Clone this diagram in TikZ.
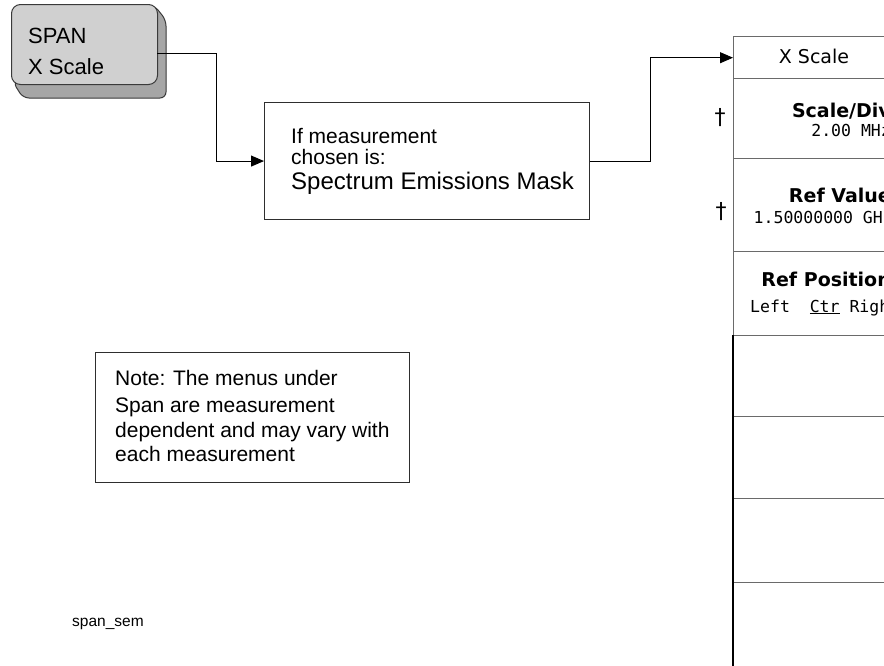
\documentclass[tikz,border=0pt]{standalone}
\usepackage{fontspec}
\setmainfont{Liberation Sans}
\newfontfamily\menufont{DejaVu Sans}
\newfontfamily\valfont{DejaVu Sans Mono}
\usetikzlibrary{arrows.meta, positioning}
\definecolor{keyFace}{HTML}{D0D0D0}
\definecolor{keyShade}{HTML}{A6A6A6}
\definecolor{keyEdge}{HTML}{3A3A3A}
\definecolor{boxEdge}{HTML}{2E2E2E}
\definecolor{menuLine}{HTML}{6A6A6A}
\newcommand{\fsz}[1]{\fontsize{#1}{#1}\selectfont}

\begin{document}
\begin{tikzpicture}[x=1pt, y=-1pt,
    conn/.style={draw=black, line width=1pt, -{Triangle[length=13pt, width=11pt]}},
    keyface/.style={rectangle, rounded corners=9pt, draw=keyEdge, line width=1pt,
                    fill=keyFace, anchor=north west, inner sep=0pt},
    plainbox/.style={rectangle, draw=boxEdge, line width=1.1pt, fill=white,
                     anchor=north west, inner sep=0pt},
    softkey/.style={rectangle, draw=menuLine, line width=1.4pt, minimum width=164pt,
                    anchor=north west, inner sep=0pt},
    txt/.style={inner sep=0pt, anchor=base west},
    menutitle/.style={inner sep=0pt, anchor=base, font=\menufont\fsz{19}},
    menulabel/.style={inner sep=0pt, anchor=base east, font=\menufont\bfseries\fsz{19}},
    menuval/.style={inner sep=0pt, anchor=base east, font=\valfont\fsz{16.5}},
    dagger/.style={inner sep=0pt, font=\menufont\fsz{22}},
  ]
    \useasboundingbox (0,0) rectangle (884,665);
    \fill[white] (0,0) rectangle (884,665);
    \clip (0,0) rectangle (884,665);

    % ─── SPAN hardkey ───
    \filldraw[fill=keyShade, draw=keyEdge, line width=1pt, rounded corners=6pt]
      (154,5) -- (166,20) -- (166,98) -- (23,98) -- (13,82) -- cycle;
    \node[keyface, minimum width=146pt, minimum height=80pt] (spankey) at (11,4) {};
    \node[txt, font=\fsz{22}] (spanl1) at (28,43) {SPAN};
    \node[txt, font=\fsz{22}] (spanl2) at (28,74) {X Scale};
    \coordinate (spanout) at (157,53);

    % ─── Measurement condition ───
    \node[plainbox, minimum width=325pt, minimum height=117pt] (cond) at (264,102) {};
    \node[txt, font=\fsz{21}] (condl1) at (291,143) {If measurement};
    \node[txt, font=\fsz{21}] (condl2) at (291,164) {chosen is:};
    \node[txt, font=\fsz{24}] (condl3) at (291,189) {Spectrum Emissions Mask};

    % ─── X Scale menu ───
    \node[softkey, minimum height=42pt] (xtitle) at (733,36) {};
    \node[softkey, minimum height=80pt] (scalediv) at (733,78) {};
    \node[softkey, minimum height=93pt] (refval) at (733,158) {};
    \node[softkey, minimum height=84pt] (refpos) at (733,251) {};
    \foreach \y/\h [count=\k] in {335/81, 416/82, 498/84, 582/90}{
      \node[softkey, minimum height=\h pt] (blank\k) at (733,\y) {};
    }
    \draw[black, line width=1.4pt] (blank1.north west) -- (blank4.south west);

    \node[menutitle] (xtitlelbl) at (814,63) {X Scale};
    \node[menulabel] (scaledivlbl) at (891,117) {Scale/Div};
    \node[menuval] (scaledivval) at (891,136) {2.00 MHz};
    \node[menulabel] (refvallbl) at (891,202) {Ref Value};
    \node[menuval] (refvalval) at (893,223) {1.50000000 GHz};
    \node[menulabel] (refposlbl) at (891,286) {Ref Position};
    \node[txt, font=\valfont\fsz{16.5}] (refposval) at (750,312)
      {Left~~\underline{Ctr}~Right};
    \node[dagger] (dag1) at (720,118) {†};
    \node[dagger] (dag2) at (721,212) {†};

    % ─── Connectors ───
    \draw[conn] (spanout) -- ++(59,0) |- (cond.west);
    \draw[conn] (cond.east) -- ++(60,0) |- (xtitle.west);

    % ─── Note ───
    \node[plainbox, minimum width=314pt, minimum height=130pt] (note) at (95,352) {};
    \node[txt, font=\fsz{21}] (notel1) at (115,385) {Note: The menus under};
    \node[txt, font=\fsz{21}] (notel2) at (115,412) {Span are measurement};
    \node[txt, font=\fsz{21}] (notel3) at (115,437) {dependent and may vary with};
    \node[txt, font=\fsz{21}] (notel4) at (115,461) {each measurement};

    % ─── Figure tag ───
    \node[txt, font=\fsz{15.5}] (figtag) at (72,626) {span\_sem};
\end{tikzpicture}
\end{document}
